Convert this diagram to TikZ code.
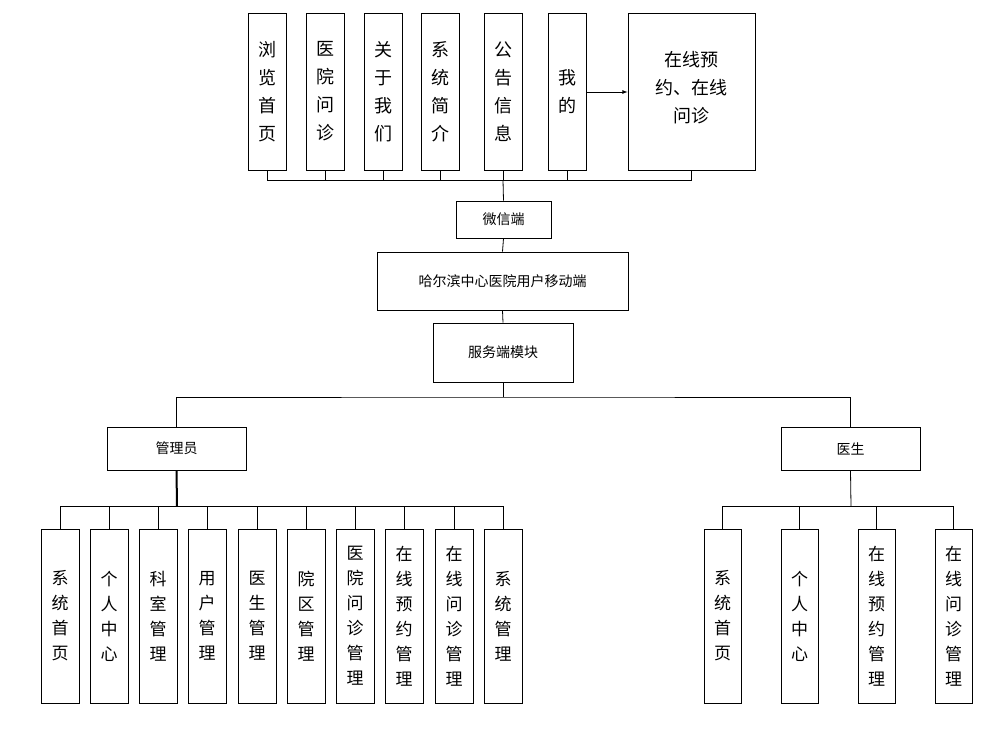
\documentclass[tikz,border=0pt]{standalone}
\usepackage{fontspec}
\setmainfont{Noto Sans CJK SC}
\begin{document}
\begin{tikzpicture}[x=1pt,y=-1pt]
    \tikzstyle{vbox} = [draw, thick, minimum width=38pt, minimum height=174pt, align=center, font=\fontsize{17}{25}\selectfont, inner sep=0pt]
    \tikzstyle{tbox} = [draw, thick, minimum width=38pt, minimum height=157pt, align=center, font=\fontsize{18}{28}\selectfont, inner sep=0pt]
    \tikzstyle{hbox} = [draw, thick, align=center, font=\fontsize{14}{16}\selectfont, inner sep=0pt]
    \tikzstyle{link} = [thick]

    \useasboundingbox (0,0) rectangle (997,731);

    % top row
    \foreach \name/\x/\txt in {liulan/267/浏\\览\\首\\页, yiyuan/325/医\\院\\问\\诊, guanyu/383/关\\于\\我\\们, xitong/440/系\\统\\简\\介, gonggao/503/公\\告\\信\\息}
        \node [tbox] (\name) at (\x,91.5) {\txt};
    \node [tbox, anchor=north] (wode) at (567,13) {我\\的};
    \node [tbox, minimum width=127pt, anchor=north] (zaixian) at (691.5,13) {};
    \node [font=\fontsize{18}{28}\selectfont, align=center, text width=100pt] at (691.5,88) {在线预\\约、在线\\问诊};
    \draw [link, -latex] (wode.east |- 0,92) -- (zaixian.west |- 0,92);

    \node [hbox, minimum width=95pt, minimum height=37pt] (weixin) at (503.5,219.5) {微信端};
    \node [hbox, minimum width=251pt, minimum height=58pt] (yidong) at (502.5,281) {哈尔滨中心医院用户移动端};
    \node [hbox, minimum width=140pt, minimum height=59pt] (fuwu) at (503,352.5) {服务端模块};

    \coordinate (topbus) at (503,180);
    \foreach \name in {liulan, yiyuan, guanyu, xitong, gonggao, wode, zaixian}
        \draw [link] (\name.south) -- (\name.south |- topbus);
    \draw [link] (liulan.south |- topbus) -- (zaixian.south |- topbus);
    \draw [link] (topbus) -- (weixin.north);
    \draw [link] (weixin.south) -- (yidong.north);
    \draw [link] (yidong.south) -- (fuwu.north);

    % roles
    \node [hbox, minimum width=139pt, minimum height=43pt] (admin) at (176.5,448.5) {管理员};
    \node [hbox, minimum width=139pt, minimum height=43pt] (doctor) at (850.5,448.5) {医生};
    \coordinate (split) at (503,397);
    \draw [link] (fuwu.south) -- (split);
    \draw [link] (admin.north) |- (split) -| (doctor.north);

    % admin modules
    \coordinate (abus) at (177,506);
    \draw [line width=2pt] (admin.south) -- (abus);
    \foreach \i/\x/\txt in {1/60/系\\统\\首\\页, 2/109/个\\人\\中\\心, 3/158/科\\室\\管\\理, 4/207/用\\户\\管\\理, 5/257/医\\生\\管\\理, 6/306/院\\区\\管\\理, 7/355/医\\院\\问\\诊\\管\\理, 8/404/在\\线\\预\\约\\管\\理, 9/454/在\\线\\问\\诊\\管\\理, 10/503/系\\统\\管\\理} {
        \node [vbox] (a\i) at (\x,616) {\txt};
        \draw [link] (a\i.north) -- (a\i.north |- abus);
    }
    \draw [link] (a1.north |- abus) -- (a10.north |- abus);

    % doctor modules
    \coordinate (dbus) at (851,506);
    \draw [link] (doctor.south) -- (dbus);
    \foreach \i/\x/\txt in {1/722.5/系\\统\\首\\页, 2/799.5/个\\人\\中\\心, 3/876.5/在\\线\\预\\约\\管\\理, 4/953.5/在\\线\\问\\诊\\管\\理} {
        \node [vbox, minimum width=37pt] (d\i) at (\x,616) {\txt};
        \draw [link] (d\i.north) -- (d\i.north |- dbus);
    }
    \draw [link] (d1.north |- dbus) -- (d4.north |- dbus);
\end{tikzpicture}
\end{document}
